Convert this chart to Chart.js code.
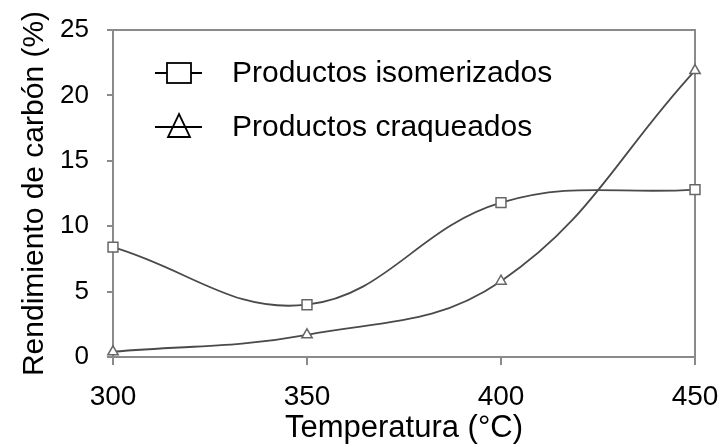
<!DOCTYPE html>
<html>
<head>
<meta charset="utf-8">
<script src="https://cdn.jsdelivr.net/npm/chart.js@4.4.1/dist/chart.umd.min.js"></script>
<style>
  html, body { margin: 0; padding: 0; background: #fff; }
  #wrap { width: 720px; height: 447px; }
</style>
</head>
<body>
<div id="wrap"><canvas id="chart" width="720" height="447"></canvas></div>
<script>
const temps = [300, 350, 400, 450];
const isomerizados = [8.4, 4.0, 11.8, 12.8];
const craqueados = [0.4, 1.7, 5.8, 21.9];
const seriesLabels = ['Productos isomerizados', 'Productos craqueados'];
const xTitle = 'Temperatura (°C)';
const yTitle = 'Rendimiento de carbón (%)';

const FONT = '"Liberation Sans", Arial, sans-serif';
const AXIS = '#8a8a8a';
const LINE = '#4a4a4a';

const toPoints = (vals) => temps.map((t, i) => ({ x: t, y: vals[i] }));

// box around plot area
const frame = {
    id: 'frame',
    beforeDatasetsDraw(chart) {
        const { ctx, chartArea: a } = chart;
        ctx.save();
        ctx.strokeStyle = AXIS;
        ctx.lineWidth = 2;
        ctx.strokeRect(a.left, a.top, a.right - a.left, a.bottom - a.top);
        ctx.restore();
    }
};

// legend like the original: line with marker through it
const innerLegend = {
    id: 'innerLegend',
    afterDraw(chart) {
        const { ctx, chartArea: a } = chart;
        ctx.save();
        ctx.font = '30px ' + FONT;
        ctx.textBaseline = 'middle';
        chart.data.datasets.forEach((ds, i) => {
            const y = a.top + 43 + i * 54;
            const x0 = a.left + 42;
            ctx.strokeStyle = '#000';
            ctx.lineWidth = 1.8;
            ctx.beginPath();
            ctx.moveTo(x0, y);
            ctx.lineTo(x0 + 47, y);
            ctx.stroke();
            const cx = x0 + 24;
            ctx.fillStyle = '#fff';
            if (ds.pointStyle === 'rect') {
                ctx.fillRect(cx - 12, y - 10, 24, 20);
                ctx.strokeRect(cx - 12, y - 10, 24, 20);
            } else {
                ctx.beginPath();
                ctx.moveTo(cx, y - 13);
                ctx.lineTo(cx + 11, y + 10);
                ctx.lineTo(cx - 11, y + 10);
                ctx.closePath();
                ctx.stroke();
            }
            ctx.fillStyle = '#000';
            ctx.fillText(ds.label, x0 + 77, y + 1);
        });
        ctx.restore();
    }
};

new Chart(document.getElementById('chart').getContext('2d'), {
    type: 'line',
    data: {
        datasets: [
            {
                label: seriesLabels[0],
                data: toPoints(isomerizados),
                borderColor: LINE,
                borderWidth: 1.8,
                tension: 0.4,
                pointStyle: 'rect',
                pointRadius: 7,
                pointBorderColor: '#666',
                pointBackgroundColor: '#fff',
                pointBorderWidth: 1.5,
                clip: false
            },
            {
                label: seriesLabels[1],
                data: toPoints(craqueados),
                borderColor: LINE,
                borderWidth: 1.8,
                tension: 0.4,
                pointStyle: 'triangle',
                pointRadius: 6,
                pointBorderColor: '#666',
                pointBackgroundColor: '#fff',
                pointBorderWidth: 1.5,
                clip: false
            }
        ]
    },
    options: {
        responsive: false,
        animation: false,
        layout: { padding: { top: 30, right: 25, left: 0, bottom: 0 } },
        plugins: {
            legend: { display: false },
            tooltip: { enabled: false }
        },
        scales: {
            x: {
                type: 'linear',
                min: 300,
                max: 450,
                afterFit(scale) {
                    scale.height = 90;
                    scale.paddingLeft = 0;
                    scale.paddingRight = 0;
                },
                ticks: {
                    stepSize: 50,
                    color: '#000',
                    padding: 15,
                    font: { family: FONT, size: 28 }
                },
                grid: { drawOnChartArea: false, drawTicks: true, tickLength: 8, color: AXIS, lineWidth: 2 },
                border: { display: false },
                title: {
                    display: true,
                    text: xTitle,
                    color: '#000',
                    font: { family: FONT, size: 31 },
                    padding: { top: 0, bottom: 0 }
                }
            },
            y: {
                min: 0,
                max: 25,
                afterFit(scale) {
                    scale.width = 113;
                    scale.paddingTop = 0;
                    scale.paddingBottom = 0;
                },
                ticks: {
                    stepSize: 5,
                    color: '#000',
                    padding: 18,
                    font: { family: FONT, size: 26 }
                },
                grid: { drawOnChartArea: false, drawTicks: true, tickLength: 6, color: AXIS, lineWidth: 2 },
                border: { display: false },
                title: {
                    display: true,
                    text: yTitle,
                    color: '#000',
                    font: { family: FONT, size: 30 },
                    padding: { top: 17, bottom: 0 }
                }
            }
        }
    },
    plugins: [frame, innerLegend]
});
</script>
</body>
</html>
